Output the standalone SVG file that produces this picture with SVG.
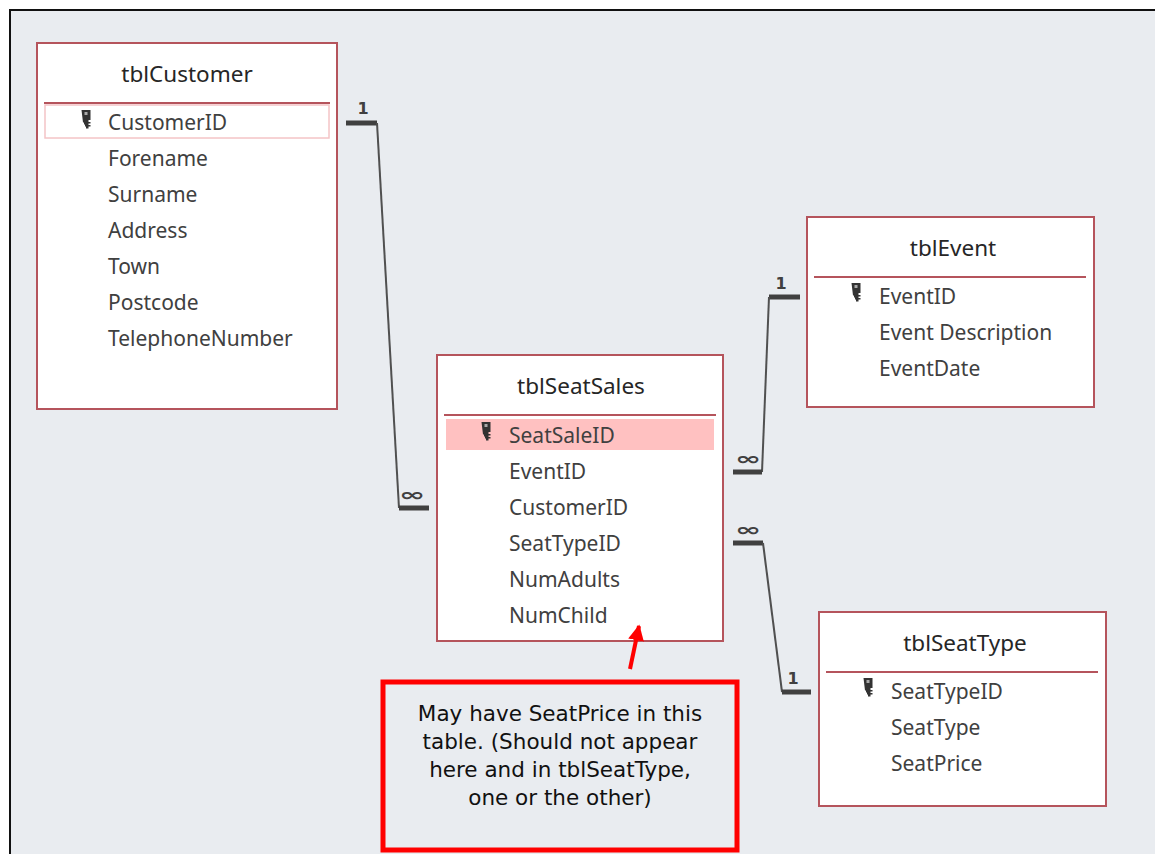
<svg xmlns="http://www.w3.org/2000/svg" width="1155" height="854" viewBox="0 0 1155 854">
<defs>
<style>
.tbl{fill:#ffffff;stroke:#b5545c;stroke-width:2}
.sep{stroke:#b5545c;stroke-width:2}
.title{font-family:"Noto Sans","Open Sans",sans-serif;font-size:22.5px;fill:#262626;text-anchor:middle}
.fld{font-family:"Noto Sans","Open Sans",sans-serif;font-size:21px;fill:#404040}
.bar{stroke:#404040;stroke-width:5;fill:none}
.ln{stroke:#505050;stroke-width:2;fill:none}
.card{font-family:"DejaVu Sans",sans-serif;font-size:16px;font-weight:bold;fill:#404040;text-anchor:middle}
.inf{font-family:"DejaVu Sans",sans-serif;font-size:30px;font-weight:bold;fill:#404040;text-anchor:middle}
.note{font-family:"DejaVu Sans",Verdana,sans-serif;font-size:21.5px;fill:#111111;text-anchor:middle}
</style>
<g id="key">
<path d="M-4.5,-10 h9 v10 h-2 v2 h2 v1.5 h-2 v1.5 h2 v1.5 h-2 v2 h-2.5 v-2 h-1 v-2 h-1 v-2 h-1 z" fill="#333"/>
<rect x="-1.5" y="-8" width="3" height="3" fill="#aaa"/>
</g>
<marker id="arr" viewBox="0 0 10 10" refX="9" refY="5" markerWidth="4" markerHeight="4" orient="auto">
<path d="M0,0 L10,5 L0,10 z" fill="#ff0000"/>
</marker>
</defs>
<rect x="0" y="0" width="1155" height="854" fill="#ffffff"/>
<rect x="10" y="10" width="1150" height="850" fill="#e9ecf0" stroke="#111" stroke-width="2"/>

<g id="connectors">
<path class="bar" d="M346,123 H377"/>
<path class="ln" d="M377,123 L399,508"/>
<path class="bar" d="M399,508 H429"/>
<text class="card" x="363" y="114">1</text>
<text class="inf" transform="translate(412,501) scale(1.05,0.6)">∞</text>

<path class="bar" d="M769,297 H800"/>
<path class="ln" d="M769,297 L762,472"/>
<path class="bar" d="M733,472 H762"/>
<text class="card" x="781" y="289">1</text>
<text class="inf" transform="translate(748,465) scale(1.05,0.6)">∞</text>

<path class="bar" d="M733,543 H763"/>
<path class="ln" d="M763,543 L782,692"/>
<path class="bar" d="M782,692 H811"/>
<text class="inf" transform="translate(748,536) scale(1.05,0.6)">∞</text>
<text class="card" x="793" y="684">1</text>
</g>

<g id="tblCustomer">
<rect class="tbl" x="37" y="43" width="300" height="366"/>
<text class="title" x="187" y="82">tblCustomer</text>
<line class="sep" x1="44" y1="103" x2="330" y2="103"/>
<rect x="45" y="105" width="284" height="33" fill="#ffffff" stroke="#f4c4c6" stroke-width="1.5"/>
<use href="#key" x="86" y="120"/>
<text class="fld" x="108" y="130">CustomerID</text>
<text class="fld" x="108" y="166">Forename</text>
<text class="fld" x="108" y="202">Surname</text>
<text class="fld" x="108" y="238">Address</text>
<text class="fld" x="108" y="274">Town</text>
<text class="fld" x="108" y="310">Postcode</text>
<text class="fld" x="108" y="346">TelephoneNumber</text>
</g>

<g id="tblSeatSales">
<rect class="tbl" x="437" y="355" width="286" height="286"/>
<text class="title" x="581" y="394">tblSeatSales</text>
<line class="sep" x1="444" y1="415" x2="716" y2="415"/>
<rect x="446" y="419" width="268" height="31" fill="#ffc1c1"/>
<use href="#key" x="486" y="432"/>
<text class="fld" x="509" y="443">SeatSaleID</text>
<text class="fld" x="509" y="479">EventID</text>
<text class="fld" x="509" y="515">CustomerID</text>
<text class="fld" x="509" y="551">SeatTypeID</text>
<text class="fld" x="509" y="587">NumAdults</text>
<text class="fld" x="509" y="623">NumChild</text>
</g>

<g id="tblEvent">
<rect class="tbl" x="807" y="217" width="287" height="190"/>
<text class="title" x="953" y="256">tblEvent</text>
<line class="sep" x1="814" y1="277" x2="1086" y2="277"/>
<use href="#key" x="856" y="293"/>
<text class="fld" x="879" y="304">EventID</text>
<text class="fld" x="879" y="340">Event Description</text>
<text class="fld" x="879" y="376">EventDate</text>
</g>

<g id="tblSeatType">
<rect class="tbl" x="819" y="612" width="287" height="194"/>
<text class="title" x="965" y="651">tblSeatType</text>
<line class="sep" x1="826" y1="672" x2="1098" y2="672"/>
<use href="#key" x="868" y="688"/>
<text class="fld" x="891" y="699">SeatTypeID</text>
<text class="fld" x="891" y="735">SeatType</text>
<text class="fld" x="891" y="771">SeatPrice</text>
</g>

<g id="note">
<line x1="630" y1="669" x2="639" y2="626" stroke="#ff0000" stroke-width="4" marker-end="url(#arr)"/>
<rect x="383" y="682" width="354" height="168" fill="#e9ecf0" stroke="#ff0000" stroke-width="5"/>
<text class="note" x="560" y="721">May have SeatPrice in this</text>
<text class="note" x="560" y="749">table. (Should not appear</text>
<text class="note" x="560" y="777">here and in tblSeatType,</text>
<text class="note" x="560" y="805">one or the other)</text>
</g>
</svg>
